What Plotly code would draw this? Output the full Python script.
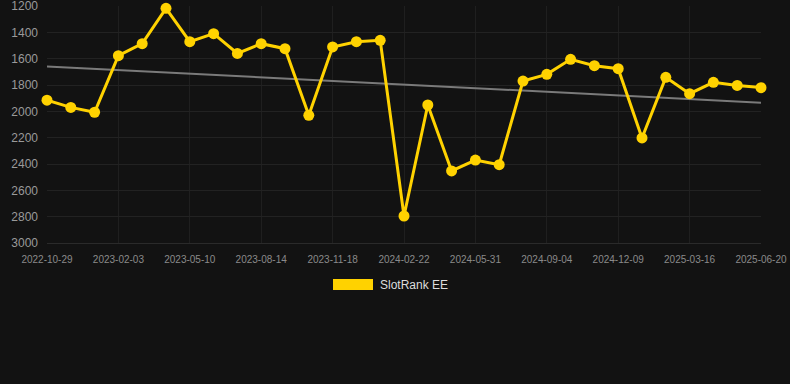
import numpy as np
import plotly.graph_objects as go

dates = ["2022-10-29", "2022-12-01", "2023-01-03", "2023-02-03", "2023-03-08", "2023-04-08",
         "2023-05-10", "2023-06-12", "2023-07-13", "2023-08-14", "2023-09-16", "2023-10-17",
         "2023-11-18", "2023-12-21", "2024-01-21", "2024-02-22", "2024-03-26", "2024-04-28",
         "2024-05-31", "2024-07-03", "2024-08-03", "2024-09-04", "2024-10-07", "2024-11-07",
         "2024-12-09", "2025-01-11", "2025-02-11", "2025-03-16", "2025-04-18", "2025-05-19",
         "2025-06-20"]
ranks = [1915, 1970, 2007, 1577, 1486, 1218, 1471, 1410, 1560, 1486, 1524, 2030,
         1511, 1471, 1461, 2795, 1952, 2453, 2370, 2405, 1770, 1719, 1605, 1653,
         1676, 2202, 1742, 1866, 1780, 1803, 1820]
y_ticks = [1200, 1400, 1600, 1800, 2000, 2200, 2400, 2600, 2800, 3000]
series_name = "SlotRank EE"

idx = np.arange(len(dates))
coef = np.polyfit(idx, ranks, 1)
trend = np.polyval(coef, idx)

fig = go.Figure()
fig.add_trace(go.Scatter(x=idx, y=trend, mode="lines",
                         line=dict(color="#7a7a7a", width=2), hoverinfo="skip",
                         showlegend=False))
fig.add_trace(go.Scatter(x=idx, y=ranks, mode="lines+markers", name=series_name,
                         line=dict(color="#FFD200", width=3),
                         marker=dict(color="#FFD200", size=11),
                         showlegend=False, cliponaxis=False))

fig.update_layout(
    width=790, height=384,
    margin=dict(l=47, r=29, t=6, b=141),
    paper_bgcolor="#121212", plot_bgcolor="#121212",
    font=dict(family="Arial, Liberation Sans, sans-serif"),
    showlegend=False,
)
fig.update_xaxes(
    range=[0, len(dates) - 1], automargin=False,
    tickmode="array", tickvals=idx[::3], ticktext=[dates[i] for i in idx[::3]],
    tickfont=dict(size=10, color="#8a8a8a"),
    showgrid=True, gridcolor="#1f1f1f", gridwidth=1,
    zeroline=False, showline=True, linecolor="#2a2a2a", ticks="", ticklen=0,
    ticklabelstandoff=7, ticklabeloverflow="allow",
)
fig.update_yaxes(
    range=[3000, 1200], automargin=False, tickmode="array", tickvals=y_ticks,
    tickfont=dict(size=12, color="#9a9a9a"),
    showgrid=True, gridcolor="#222222", gridwidth=1,
    zeroline=False, showline=False, ticks="", ticklen=0,
    ticklabelstandoff=8, ticklabeloverflow="allow",
)

# legend drawn manually (paper coords: plot spans x 47..761, y 6..243 px)
def px_x(p):
    return (p - 47) / 714

def px_y(p):
    return (243 - p) / 237

fig.add_shape(type="rect", xref="paper", yref="paper",
              x0=px_x(333), x1=px_x(373), y0=px_y(279), y1=px_y(290),
              fillcolor="#FFD200", line=dict(width=0))
fig.add_annotation(xref="paper", yref="paper", x=px_x(378), y=px_y(285),
                   text=series_name, showarrow=False, xanchor="left", yanchor="middle",
                   font=dict(size=12, color="#dddddd"))

fig.write_html("out.html", config={"displayModeBar": False},
               post_script="document.body.style.margin='0';document.body.style.background='#121212';")
